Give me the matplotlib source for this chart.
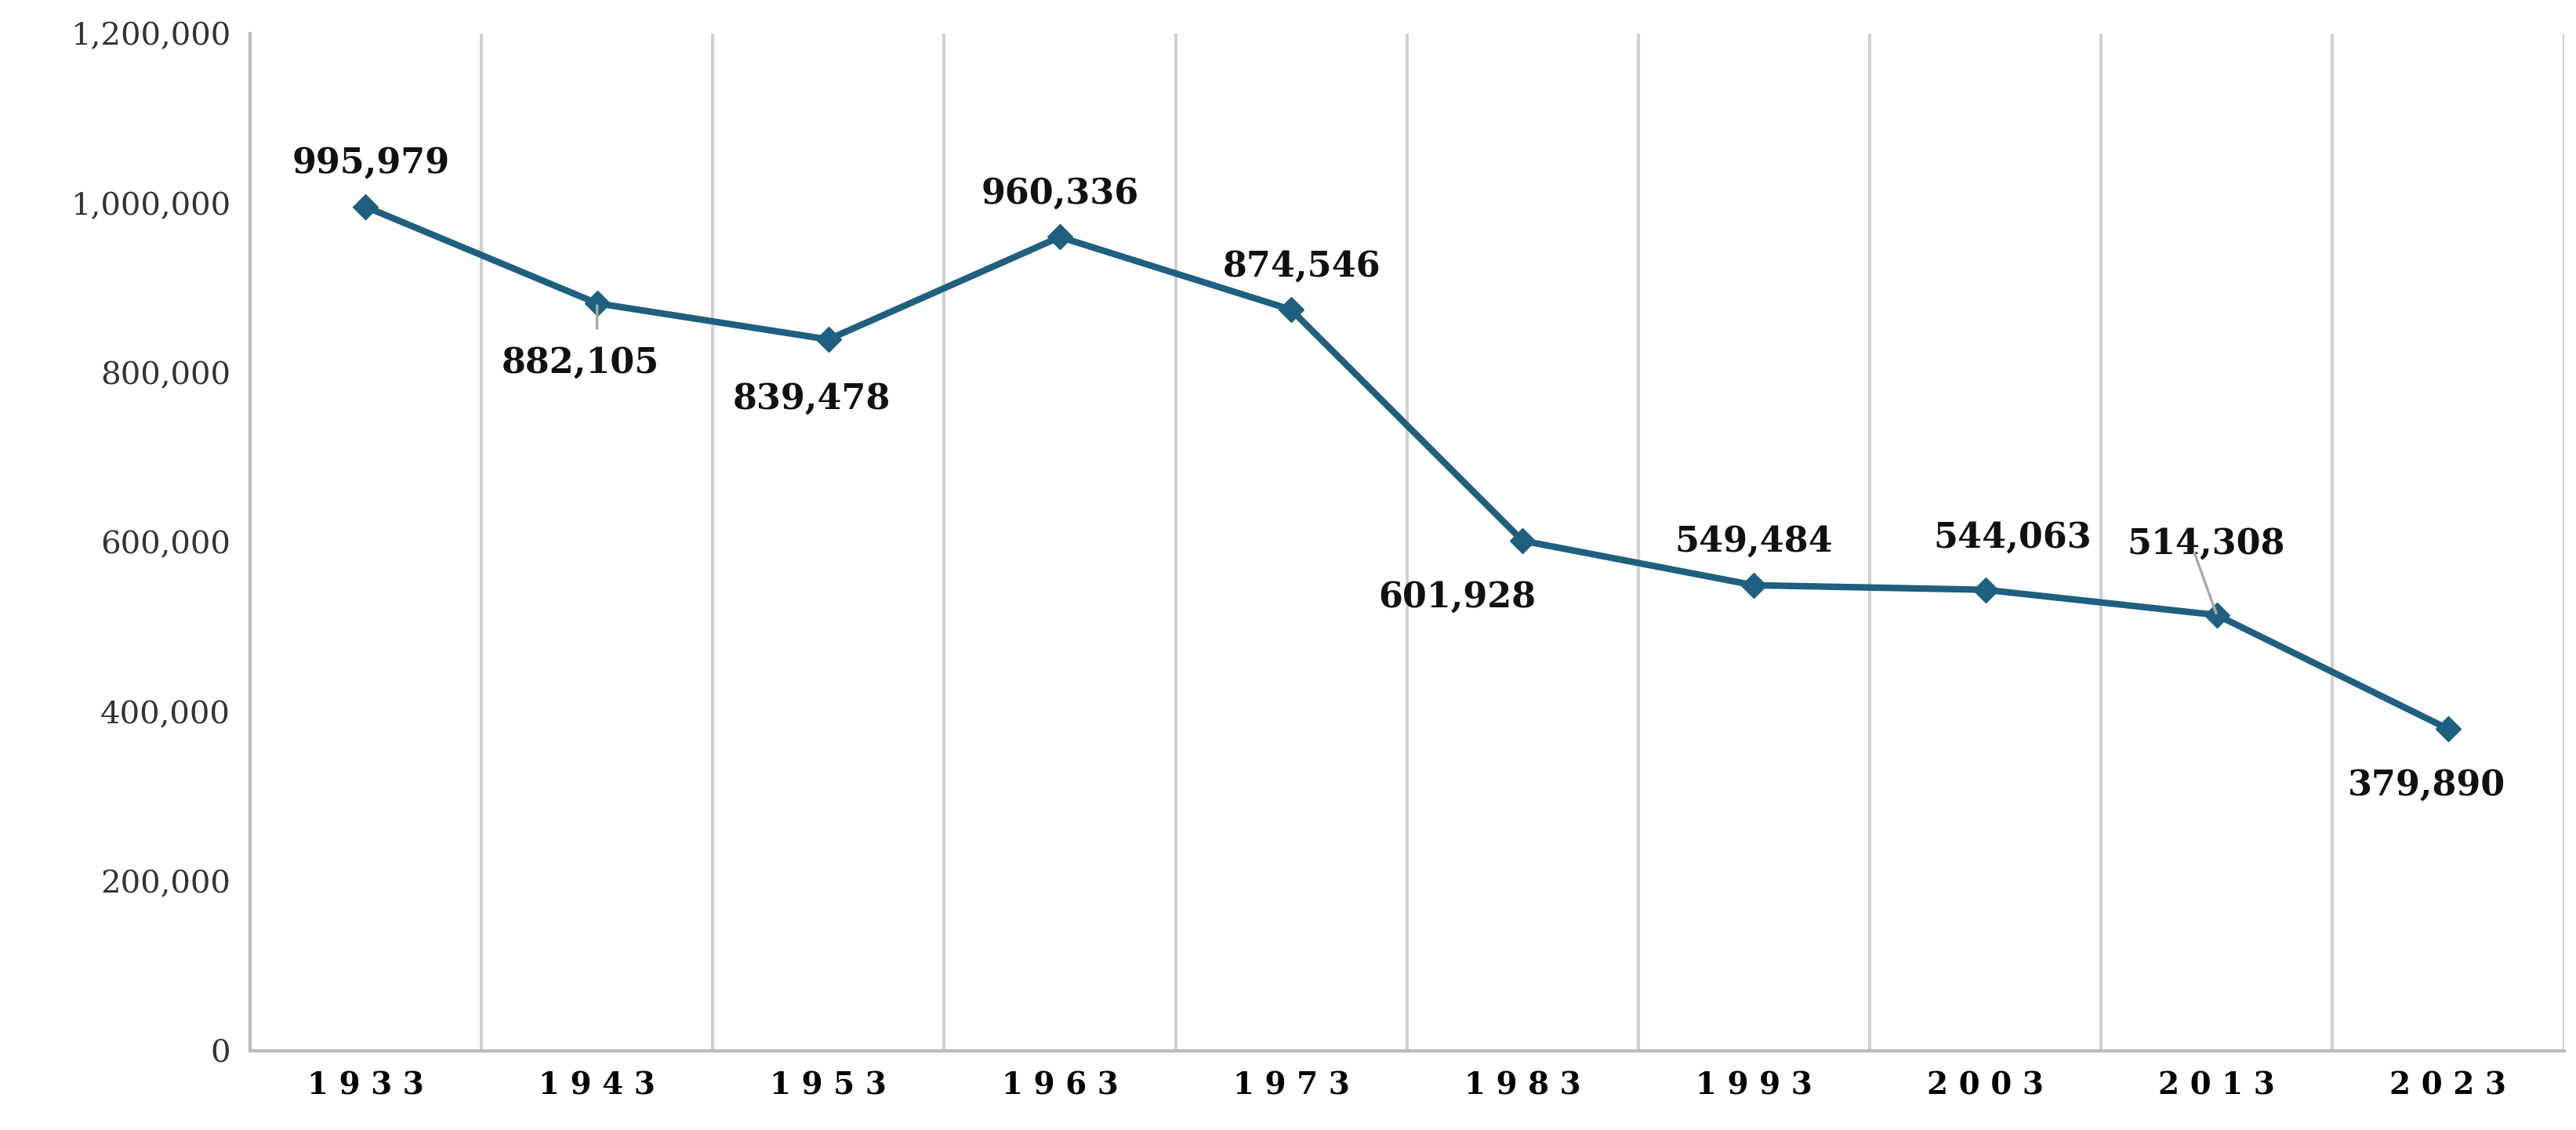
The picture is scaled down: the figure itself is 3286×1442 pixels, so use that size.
import matplotlib
matplotlib.use("Agg")
import matplotlib.pyplot as plt

years = ["1933","1943","1953","1963","1973","1983","1993","2003","2013","2023"]
values = [995979, 882105, 839478, 960336, 874546, 601928, 549484, 544063, 514308, 379890]
# label offsets in points (dx, dy)
offsets = [(5,40),(-15,-55),(-15,-55),(0,40),(10,40),(-60,-52),(0,40),(25,48),(-10,65),(-20,-52)]

plt.rcParams['font.family'] = ['DejaVu Serif', 'Liberation Serif']
fig = plt.figure(figsize=(32.87, 14.42), dpi=100)
ax = fig.add_axes([0.097, 0.07, 0.898, 0.9])
x = list(range(len(years)))
ax.plot(x, values, color='#1f5f7f', lw=6, marker='D', ms=16, zorder=3)
for i, (v, (dx, dy)) in enumerate(zip(values, offsets)):
    ax.annotate(f"{v:,}", (i, v), xytext=(dx, dy), textcoords='offset points',
                ha='center', va='center', fontsize=32, fontweight='bold', color='#111111')
ax.annotate("", (8, 514308), xytext=(7.9, 590000),
            arrowprops=dict(arrowstyle='-', color='#aaaaaa', lw=2.5))
ax.annotate("", (1, 882105), xytext=(1, 850000),
            arrowprops=dict(arrowstyle='-', color='#aaaaaa', lw=2.5))
ax.set_xlim(-0.5, 9.5)
ax.set_ylim(0, 1200000)
ax.set_yticks(range(0, 1200001, 200000))
ax.set_yticklabels([f"{t:,}" for t in range(0, 1200001, 200000)], fontsize=29, color='#333333')
ax.set_xticks(x)
ax.set_xticklabels([" ".join(y) for y in years], fontsize=28, fontweight='bold')
for b in [i + 0.5 for i in range(10)]:
    ax.axvline(b, color='#d0d0d0', lw=3, zorder=0)
for s in ['top', 'right']:
    ax.spines[s].set_visible(False)
for s in ['left', 'bottom']:
    ax.spines[s].set_color('#bbbbbb')
    ax.spines[s].set_linewidth(3)
ax.tick_params(axis='both', length=0, pad=18)
fig.savefig("out.png", dpi=100)
